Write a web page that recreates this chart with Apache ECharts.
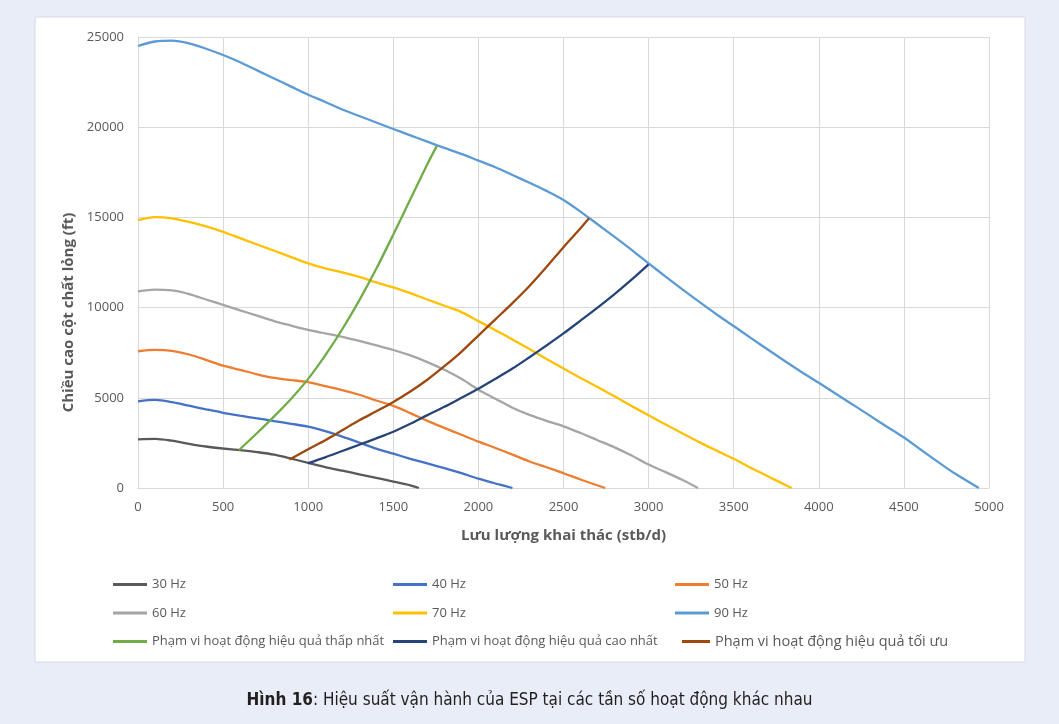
<!DOCTYPE html>
<html>
<head>
<meta charset="utf-8">
<script src="https://cdn.jsdelivr.net/npm/echarts@6/dist/echarts.min.js"></script>
<style>
html,body{margin:0;padding:0;background:#E8EDF7;}
#chart{width:1059px;height:724px;}
</style>
</head>
<body>
<div id="chart"></div>
<script>
// Tick labels / axis ranges
var xTicks = [0,500,1000,1500,2000,2500,3000,3500,4000,4500,5000];
var yTicks = [0,5000,10000,15000,20000,25000];

// Series names
var seriesNames = ['30 Hz','40 Hz','50 Hz','60 Hz','70 Hz','90 Hz',
  'Phạm vi hoạt động hiệu quả thấp nhất','Phạm vi hoạt động hiệu quả cao nhất','Phạm vi hoạt động hiệu quả tối ưu'];

// 30 Hz
var q30 = [0,100,200,300,400,500,600,700,800,900,1000,1100,1200,1300,1400,1500,1600,1650];
var h30 = [2700,2720,2620,2450,2300,2190,2100,1990,1850,1630,1390,1160,960,760,560,360,150,0];
// 40 Hz
var q40 = [0,100,200,300,400,500,600,700,800,900,1000,1100,1200,1300,1400,1500,1600,1700,1800,1900,2000,2100,2200];
var h40 = [4800,4880,4760,4560,4360,4170,4010,3860,3710,3560,3400,3150,2850,2520,2180,1900,1620,1360,1100,820,520,250,0];
// 50 Hz
var q50 = [0,100,200,300,400,500,600,700,800,900,1000,1100,1200,1300,1400,1500,1600,1700,1800,1900,2000,2100,2200,2300,2400,2500,2600,2745];
var h50 = [7580,7660,7600,7400,7100,6780,6550,6300,6100,5980,5870,5650,5430,5170,4850,4550,4150,3720,3330,2950,2570,2220,1850,1470,1150,820,470,0];
// 60 Hz
var q60 = [0,100,200,300,400,500,600,700,800,900,1000,1100,1200,1300,1400,1500,1600,1700,1800,1900,2000,2100,2200,2300,2400,2500,2600,2700,2800,2900,3000,3100,3200,3290];
var h60 = [10900,11000,10950,10750,10450,10150,9850,9550,9250,9000,8760,8570,8380,8150,7900,7650,7350,6980,6550,6050,5450,4950,4450,4050,3720,3420,3050,2650,2250,1800,1300,880,440,0];
// 70 Hz
var q70 = [0,100,200,300,400,500,600,700,800,900,1000,1100,1200,1300,1400,1500,1600,1700,1800,1900,2000,2100,2200,2300,2400,2500,2600,2700,2800,2900,3000,3100,3200,3300,3400,3500,3600,3700,3840];
var h70 = [14850,15020,14950,14750,14500,14200,13850,13500,13150,12800,12450,12170,11950,11700,11400,11120,10800,10450,10100,9750,9250,8750,8230,7700,7150,6620,6100,5600,5080,4550,4030,3520,3020,2530,2070,1620,1120,650,0];
// 90 Hz
var q90 = [0,100,200,300,400,500,600,700,800,900,1000,1100,1200,1300,1400,1500,1600,1700,1800,1900,2000,2100,2200,2300,2400,2500,2600,2700,2800,2900,3000,3100,3200,3300,3400,3500,3600,3700,3800,3900,4000,4100,4200,4300,4400,4500,4600,4700,4800,4940];
var h90 = [24500,24750,24800,24650,24350,24000,23600,23150,22700,22250,21800,21400,20980,20620,20260,19900,19550,19200,18850,18520,18150,17780,17350,16920,16470,15970,15320,14620,13920,13200,12450,11720,11000,10300,9620,8980,8320,7680,7040,6420,5830,5220,4620,4010,3400,2800,2120,1450,800,0];
// Minimum efficiency range (green)
var qMin = [593,700,800,900,1000,1100,1200,1300,1400,1500,1600,1700,1755];
var hMin = [2100,3050,3970,4950,6050,7350,8800,10400,12150,14050,16000,17950,18950];
// Maximum efficiency range (navy)
var qMax = [1000,1100,1200,1300,1400,1500,1600,1700,1800,1900,2000,2100,2200,2300,2400,2500,2600,2700,2800,2900,3000];
var hMax = [1380,1700,2050,2400,2750,3120,3560,4040,4500,5000,5500,6050,6620,7250,7900,8570,9280,10000,10750,11550,12400];
// Optimal efficiency range (brown)
var qOpt = [890,1000,1100,1200,1300,1400,1500,1600,1700,1800,1900,2000,2100,2200,2300,2400,2500,2600,2650];
var hOpt = [1580,2150,2650,3200,3750,4250,4770,5350,6000,6750,7550,8450,9350,10250,11200,12250,13350,14400,14950];

var colors = ['#595959','#4472C4','#ED7D31','#A5A5A5','#FFC000','#5B9BD5','#70AD47','#264478','#9E480E'];
var qs = [q30,q40,q50,q60,q70,q90,qMin,qMax,qOpt];
var hs = [h30,h40,h50,h60,h70,h90,hMin,hMax,hOpt];

function pairs(q,h){ var r=[]; for(var i=0;i<q.length;i++){ r.push([q[i],h[i]]); } return r; }

var series = seriesNames.map(function(n,i){
  return {
    name:n, type:'line', data:pairs(qs[i],hs[i]),
    showSymbol:false, symbol:'none', smooth:0.3,
    lineStyle:{color:colors[i], width:2.3},
    itemStyle:{color:colors[i]},
    z: 3 + i
  };
});

var legFont = '"Open Sans", "Segoe UI", sans-serif';
function legend(names, left, fs){
  return {
    orient:'vertical', left:left, top:573, itemGap:15.5,
    icon:'rect', itemWidth:34, itemHeight:3,
    textStyle:{color:'#595959', fontSize:fs||13, fontFamily:legFont},
    data:names
  };
}

var chart = echarts.init(document.getElementById('chart'), null, {renderer:'canvas'});
chart.setOption({
  backgroundColor:'#E8EDF7',
  animation:false,
  graphic:[{
    type:'rect', shape:{x:35, y:17, width:990, height:645},
    style:{fill:'#FFFFFF', stroke:'#D6DAE2', lineWidth:1}, z:-10
  }],
  title:{
    text:'{b|Hình 16}{r|: Hiệu suất vận hành của ESP tại các tần số hoạt động khác nhau}',
    left:'center', top:687,
    textStyle:{
      fontWeight:'normal',
      rich:{
        b:{fontWeight:'bold', fontSize:17, color:'#231F20', fontFamily:'"Liberation Sans Narrow","DejaVu Sans Condensed","Open Sans",sans-serif'},
        r:{fontWeight:'normal', fontSize:17, color:'#231F20', fontFamily:'"Liberation Sans Narrow","DejaVu Sans Condensed","Open Sans",sans-serif'}
      }
    }
  },
  legend:[
    legend([seriesNames[0],seriesNames[3],seriesNames[6]], 108),
    legend([seriesNames[1],seriesNames[4],seriesNames[7]], 388),
    legend([seriesNames[2],seriesNames[5]], 670),
    {orient:'vertical', left:677, top:629, icon:'rect', itemWidth:28, itemHeight:3,
     textStyle:{color:'#595959', fontSize:14.5, fontFamily:legFont}, data:[seriesNames[8]]}
  ],
  grid:{left:138, right:70, top:37, bottom:236, containLabel:false},
  xAxis:{
    type:'value', min:xTicks[0], max:xTicks[xTicks.length-1], interval:500,
    name:'Lưu lượng khai thác (stb/d)', nameLocation:'middle', nameGap:40,
    nameTextStyle:{color:'#595959', fontSize:15, fontWeight:'bold', fontFamily:legFont},
    axisLine:{show:true, lineStyle:{color:'#D9D9D9', width:1}},
    axisTick:{show:false},
    axisLabel:{color:'#595959', fontSize:13, margin:13, fontFamily:legFont, formatter:function(v){return String(v);}},
    splitLine:{show:true, lineStyle:{color:'#D9D9D9', width:1}}
  },
  yAxis:{
    type:'value', min:yTicks[0], max:yTicks[yTicks.length-1], interval:5000,
    name:'Chiều cao cột chất lỏng (ft)', nameLocation:'middle', nameGap:53,
    nameTextStyle:{color:'#595959', fontSize:15, fontWeight:'bold', fontFamily:legFont, padding:[0,100,0,0]},
    axisLine:{show:true, lineStyle:{color:'#D9D9D9', width:1}},
    axisTick:{show:false},
    axisLabel:{color:'#595959', fontSize:13, margin:14, fontFamily:legFont, formatter:function(v){return String(v);}},
    splitLine:{show:true, lineStyle:{color:'#D9D9D9', width:1}}
  },
  series:series
});
</script>
</body>
</html>
